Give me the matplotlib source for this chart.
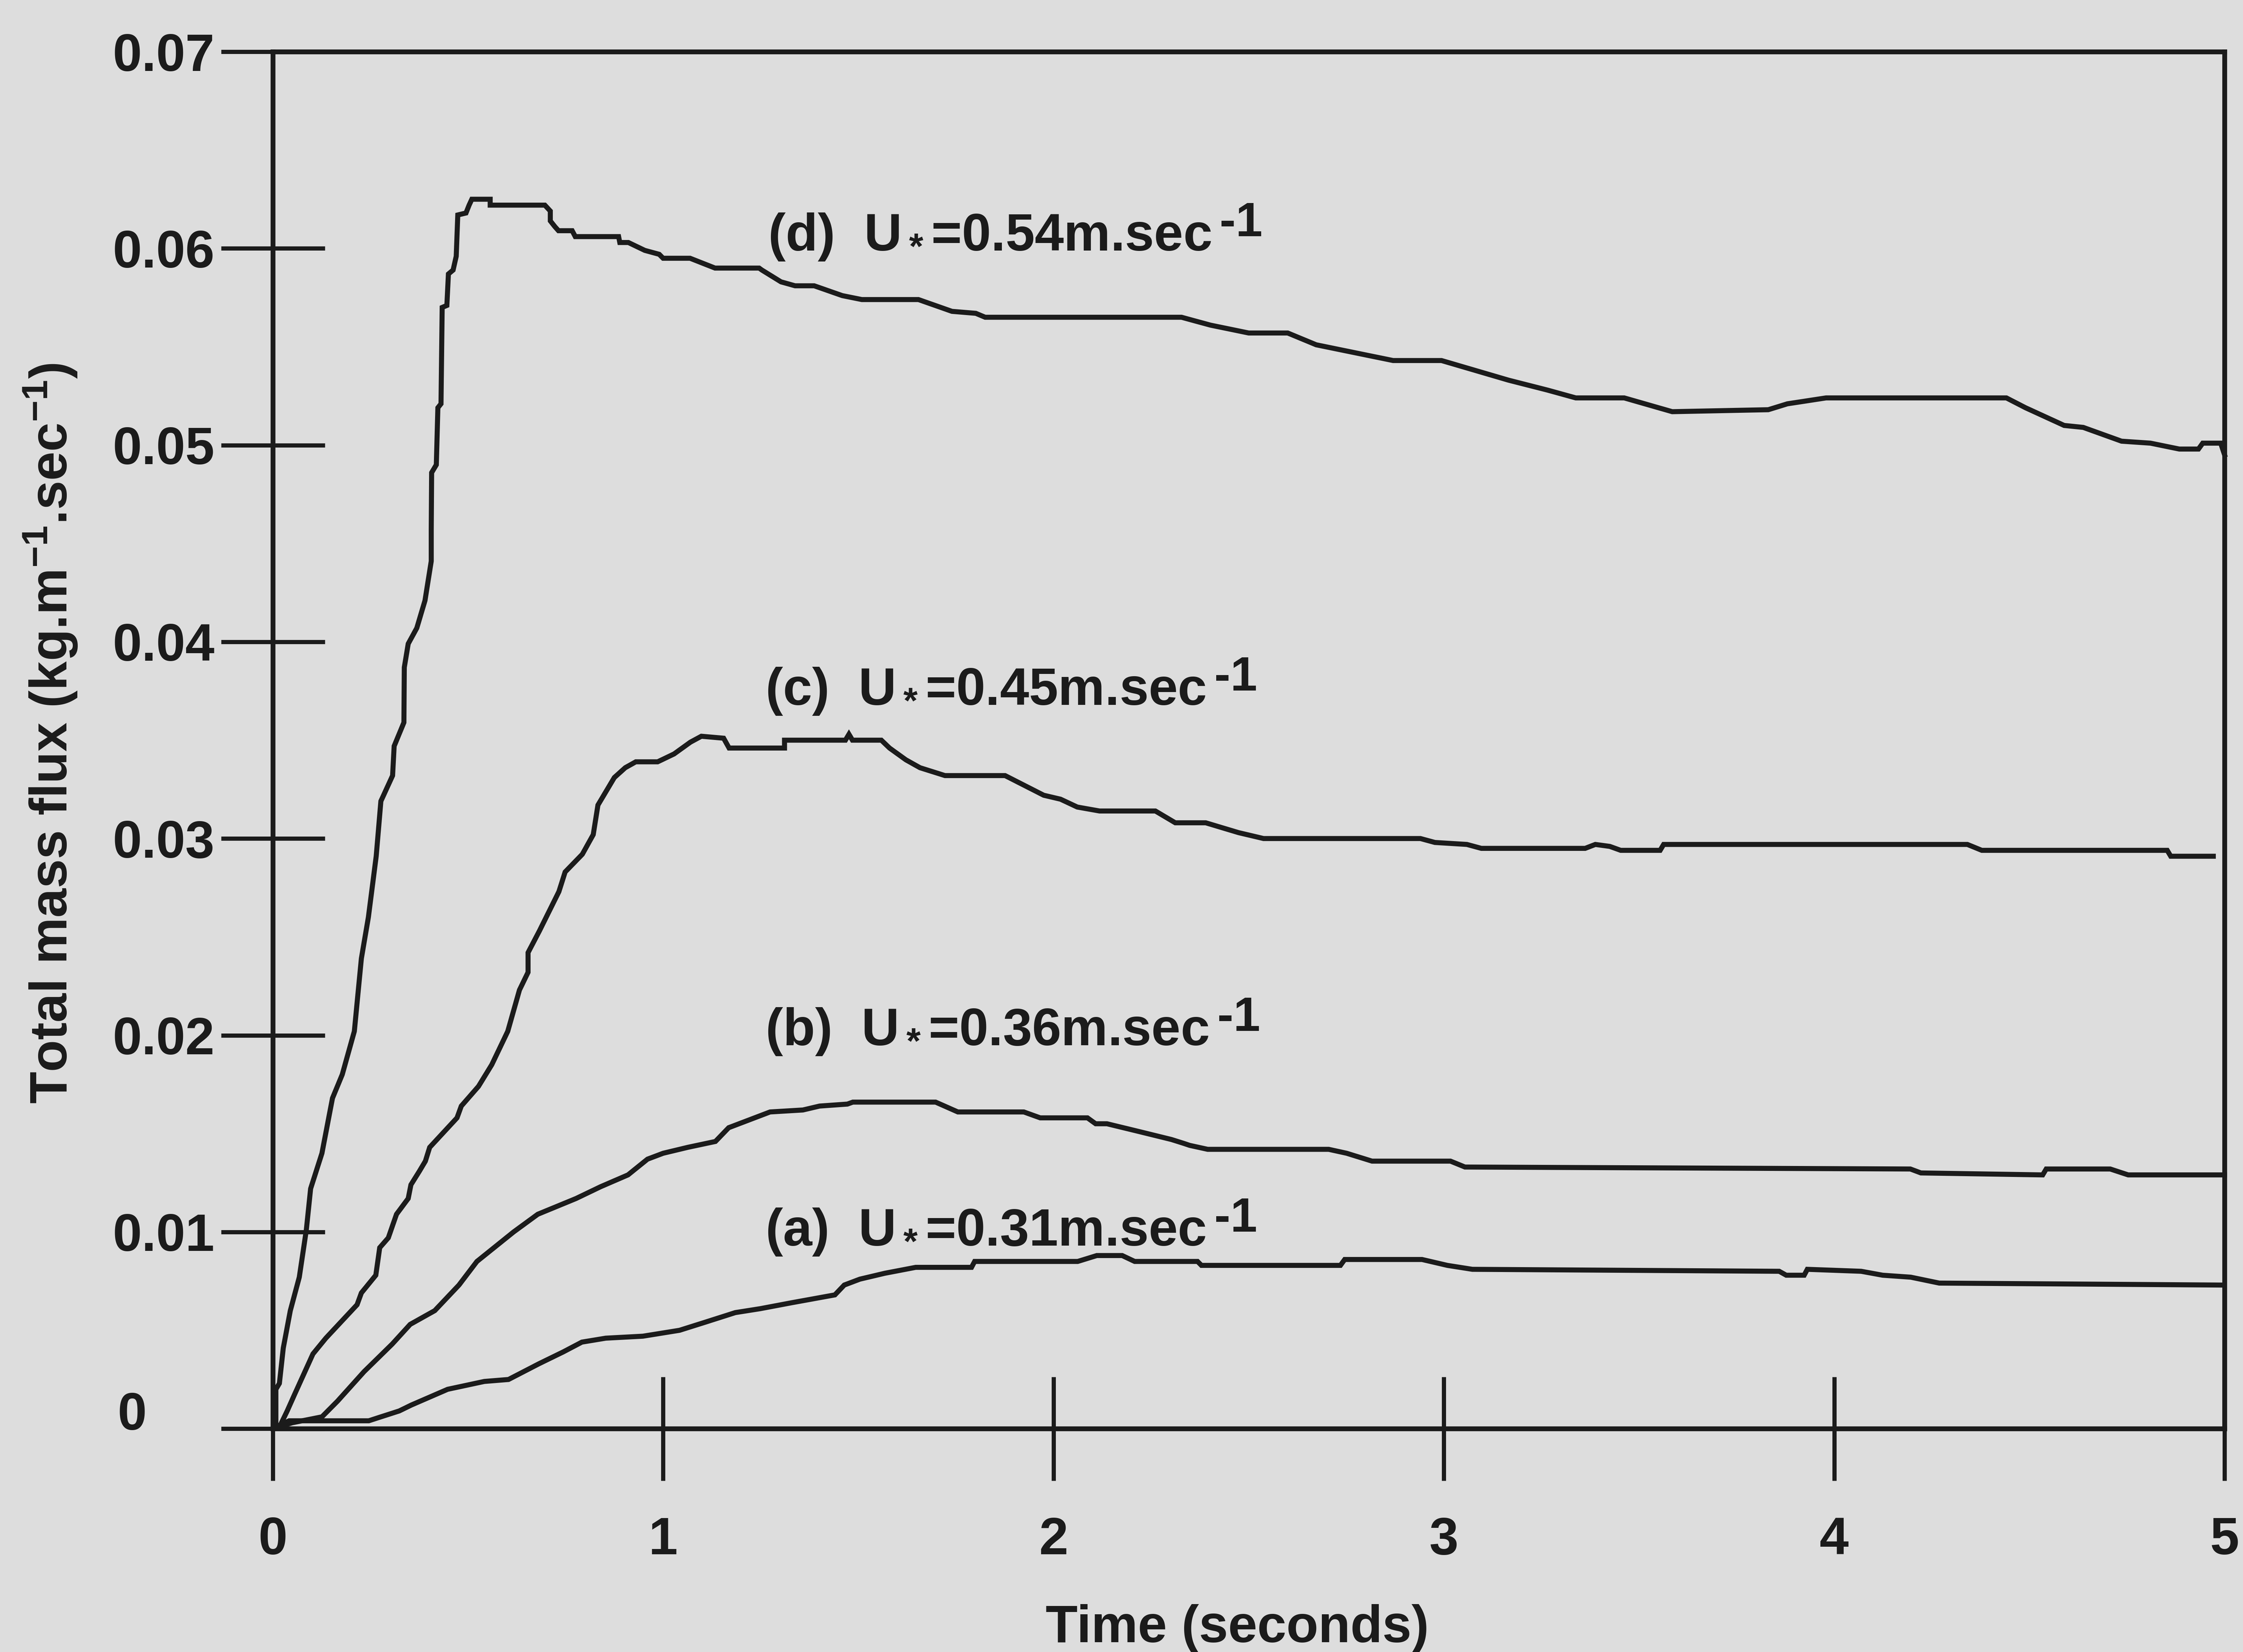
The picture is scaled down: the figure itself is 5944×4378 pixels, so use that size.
import matplotlib
matplotlib.use("Agg")
import matplotlib.pyplot as plt

plt.rcParams["font.family"] = ["Liberation Sans", "DejaVu Sans"]
plt.rcParams["font.weight"] = "bold"
plt.rcParams["mathtext.fontset"] = "custom"
plt.rcParams["mathtext.rm"] = "Liberation Sans:bold"
plt.rcParams["mathtext.it"] = "Liberation Sans:bold"
plt.rcParams["mathtext.bf"] = "Liberation Sans:bold"

# total mass flux vs time for four friction velocities
t_d = [0, 0.008, 0.008, 0.017, 0.027, 0.045, 0.068, 0.086, 0.097, 0.126, 0.153, 0.178,
       0.209, 0.227, 0.245, 0.265, 0.277, 0.307, 0.311, 0.336, 0.337, 0.347, 0.369,
       0.390, 0.406, 0.406, 0.407, 0.419, 0.423, 0.431, 0.434, 0.446, 0.450, 0.462,
       0.470, 0.474, 0.495, 0.503, 0.510, 0.557, 0.557, 0.697, 0.711, 0.711, 0.723,
       0.732, 0.767, 0.775, 0.886, 0.889, 0.911, 0.953, 0.990, 1.000, 1.069, 1.133,
       1.246, 1.253, 1.302, 1.338, 1.387, 1.459, 1.509, 1.654, 1.740, 1.801, 1.825,
       2.328, 2.402, 2.500, 2.600, 2.673, 2.796, 2.870, 2.994, 3.166, 3.265, 3.338,
       3.462, 3.585, 3.831, 3.880, 3.979, 4.441, 4.490, 4.589, 4.638, 4.736, 4.810,
       4.884, 4.933, 4.944, 4.990, 5.0]
q_d = [0, 0.0003, 0.0020, 0.0023, 0.0041, 0.0060, 0.0077, 0.0101, 0.0122, 0.0140, 0.0168,
       0.0180, 0.0202, 0.0239, 0.0260, 0.0291, 0.0319, 0.0332, 0.0347, 0.0359, 0.0387,
       0.0399, 0.0407, 0.0421, 0.0441, 0.0457, 0.0486, 0.0490, 0.0519, 0.0521, 0.0570,
       0.0571, 0.0587, 0.0589, 0.0596, 0.0617, 0.0618, 0.0622, 0.0625, 0.0625, 0.0622,
       0.0622, 0.0619, 0.0614, 0.0611, 0.0609, 0.0609, 0.0606, 0.0606, 0.0603, 0.0603,
       0.0599, 0.0597, 0.0595, 0.0595, 0.0590, 0.0590, 0.0589, 0.0583, 0.0581, 0.0581,
       0.0576, 0.0574, 0.0574, 0.0568, 0.0567, 0.0565, 0.0565, 0.0561, 0.0557, 0.0557,
       0.0551, 0.0546, 0.0543, 0.0543, 0.0533, 0.0528, 0.0524, 0.0524, 0.0517, 0.0518,
       0.0521, 0.0524, 0.0524, 0.0519, 0.0510, 0.0509, 0.0502, 0.0501, 0.0498, 0.0498,
       0.0501, 0.0501, 0.0495]

t_c = [0, 0.020, 0.037, 0.055, 0.103, 0.136, 0.216, 0.227, 0.264, 0.274, 0.296, 0.317,
       0.347, 0.354, 0.376, 0.391, 0.402, 0.472, 0.483, 0.527, 0.561, 0.602, 0.632,
       0.654, 0.654, 0.683, 0.733, 0.749, 0.793, 0.821, 0.833, 0.875, 0.903, 0.930,
       0.986, 1.028, 1.070, 1.098, 1.155, 1.169, 1.311, 1.311, 1.467, 1.476, 1.485,
       1.559, 1.580, 1.622, 1.658, 1.722, 1.876, 1.975, 2.018, 2.061, 2.118, 2.261,
       2.312, 2.390, 2.474, 2.538, 2.940, 2.977, 3.059, 3.096, 3.362, 3.388, 3.425,
       3.453, 3.554, 3.563, 4.341, 4.378, 4.853, 4.862, 4.971]
q_c = [0, 0.0002, 0.0009, 0.0017, 0.0038, 0.0046, 0.0063, 0.0069, 0.0078, 0.0092, 0.0097,
       0.0109, 0.0117, 0.0124, 0.0131, 0.0136, 0.0143, 0.0158, 0.0164, 0.0174, 0.0185,
       0.0202, 0.0223, 0.0232, 0.0242, 0.0253, 0.0273, 0.0283, 0.0292, 0.0302, 0.0317,
       0.0331, 0.0336, 0.0339, 0.0339, 0.0343, 0.0349, 0.0352, 0.0351, 0.0346, 0.0346,
       0.0350, 0.0350, 0.0353, 0.0350, 0.0350, 0.0346, 0.0340, 0.0336, 0.0332, 0.0332,
       0.0322, 0.0320, 0.0316, 0.0314, 0.0314, 0.0308, 0.0308, 0.0303, 0.0300, 0.0300,
       0.0298, 0.0297, 0.0295, 0.0295, 0.0297, 0.0296, 0.0294, 0.0294, 0.0297, 0.0297,
       0.0294, 0.0294, 0.0291, 0.0291]

t_b = [0, 0.050, 0.126, 0.166, 0.234, 0.306, 0.352, 0.415, 0.477, 0.523, 0.617, 0.679,
       0.777, 0.840, 0.910, 0.960, 1.000, 1.063, 1.134, 1.168, 1.274, 1.358, 1.401,
       1.472, 1.486, 1.698, 1.755, 1.924, 1.966, 2.087, 2.108, 2.137, 2.220, 2.302,
       2.334, 2.349, 2.395, 2.705, 2.751, 2.816, 3.017, 3.054, 4.195, 4.222, 4.534,
       4.543, 4.707, 4.753, 5.0]
q_b = [0, 0.0003, 0.0006, 0.0014, 0.0029, 0.0043, 0.0053, 0.0060, 0.0073, 0.0085, 0.0100,
       0.0109, 0.0117, 0.0123, 0.0129, 0.0137, 0.0140, 0.0143, 0.0146, 0.0153, 0.0161,
       0.0162, 0.0164, 0.0165, 0.0166, 0.0166, 0.0161, 0.0161, 0.0158, 0.0158, 0.0155,
       0.0155, 0.0151, 0.0147, 0.0145, 0.0144, 0.0142, 0.0142, 0.0140, 0.0136, 0.0136,
       0.0133, 0.0132, 0.0130, 0.0129, 0.0132, 0.0132, 0.0129, 0.0129]

t_a = [0, 0.042, 0.246, 0.277, 0.324, 0.355, 0.448, 0.542, 0.604, 0.682, 0.744, 0.792,
       0.853, 0.948, 1.042, 1.106, 1.185, 1.249, 1.329, 1.440, 1.464, 1.504, 1.568,
       1.647, 1.790, 1.798, 2.062, 2.111, 2.176, 2.208, 2.369, 2.379, 2.735, 2.746,
       2.944, 3.009, 3.073, 3.859, 3.877, 3.923, 3.931, 4.069, 4.124, 4.196, 4.269,
       4.990]
q_a = [0, 0.0004, 0.0004, 0.0006, 0.0009, 0.0012, 0.0020, 0.0024, 0.0025, 0.0033, 0.0039,
       0.0044, 0.0046, 0.0047, 0.0050, 0.0054, 0.0059, 0.0061, 0.0064, 0.0068, 0.0073,
       0.0076, 0.0079, 0.0082, 0.0082, 0.0085, 0.0085, 0.0088, 0.0088, 0.0085, 0.0085,
       0.0083, 0.0083, 0.0086, 0.0086, 0.0083, 0.0081, 0.0080, 0.0078, 0.0078, 0.0081,
       0.0080, 0.0078, 0.0077, 0.0074, 0.0073]

tags = ["(d)", "(c)", "(b)", "(a)"]
ustar = ["0.54", "0.45", "0.36", "0.31"]
tag_t = [1.268, 1.262, 1.262, 1.262]
tag_q = [0.0599, 0.0368, 0.0195, 0.0093]

xticks = [0, 1, 2, 3, 4, 5]
yticks = [0, 0.01, 0.02, 0.03, 0.04, 0.05, 0.06, 0.07]
ylabels = ["", "0.01", "0.02", "0.03", "0.04", "0.05", "0.06", "0.07"]

paper = "#dddddd"
ink = "#1b1b1b"

fig = plt.figure(figsize=(14.86, 10.945), dpi=400, facecolor=paper)
ax = fig.add_axes([0.1216, 0.1352, 0.8702, 0.8335])
ax.set_facecolor(paper)

for t, q in [(t_d, q_d), (t_c, q_c), (t_b, q_b), (t_a, q_a)]:
    ax.plot(t, q, color=ink, lw=2.4, solid_joinstyle="miter", clip_on=False)

for tag, u, x, y in zip(tags, ustar, tag_t, tag_q):
    txt = ax.text(x, y, f"{tag}  U$_*$={u}m.sec", fontsize=25, color=ink,
                  ha="left", va="baseline")
    ax.annotate("-1", xy=(1, 1), xycoords=txt, xytext=(4, 5),
                textcoords="offset points", ha="left", va="top",
                fontsize=23, color=ink)

ax.set_xlim(0, 5)
ax.set_ylim(0, 0.07)
ax.set_xticks(xticks)
ax.set_xticklabels([str(v) for v in xticks])
ax.set_yticks(yticks)
ax.set_yticklabels(ylabels)
ax.tick_params(direction="inout", length=49.5, width=2.0, color=ink,
               labelsize=25, labelcolor=ink)
ax.tick_params(axis="x", pad=17)
ax.tick_params(axis="y", pad=3)
for sp in ax.spines.values():
    sp.set_linewidth(2.3)
    sp.set_color(ink)

# zero on the flux axis sits apart from the other labels
ax.annotate("0", xy=(0, 0), xycoords="axes fraction", xytext=(-67, 6),
            textcoords="offset points", ha="center", va="center",
            fontsize=25, color=ink)

fig.text(0.5517, 0.006, "Time (seconds)", ha="center", va="baseline",
         fontsize=25, color=ink)
fig.text(0.0224, 0.556, r"Total mass flux (kg.m$^{-1}$.sec$^{-1}$)",
         rotation=90, ha="center", va="center", fontsize=25, color=ink)

fig.savefig("out.png", dpi=400, facecolor=paper)
